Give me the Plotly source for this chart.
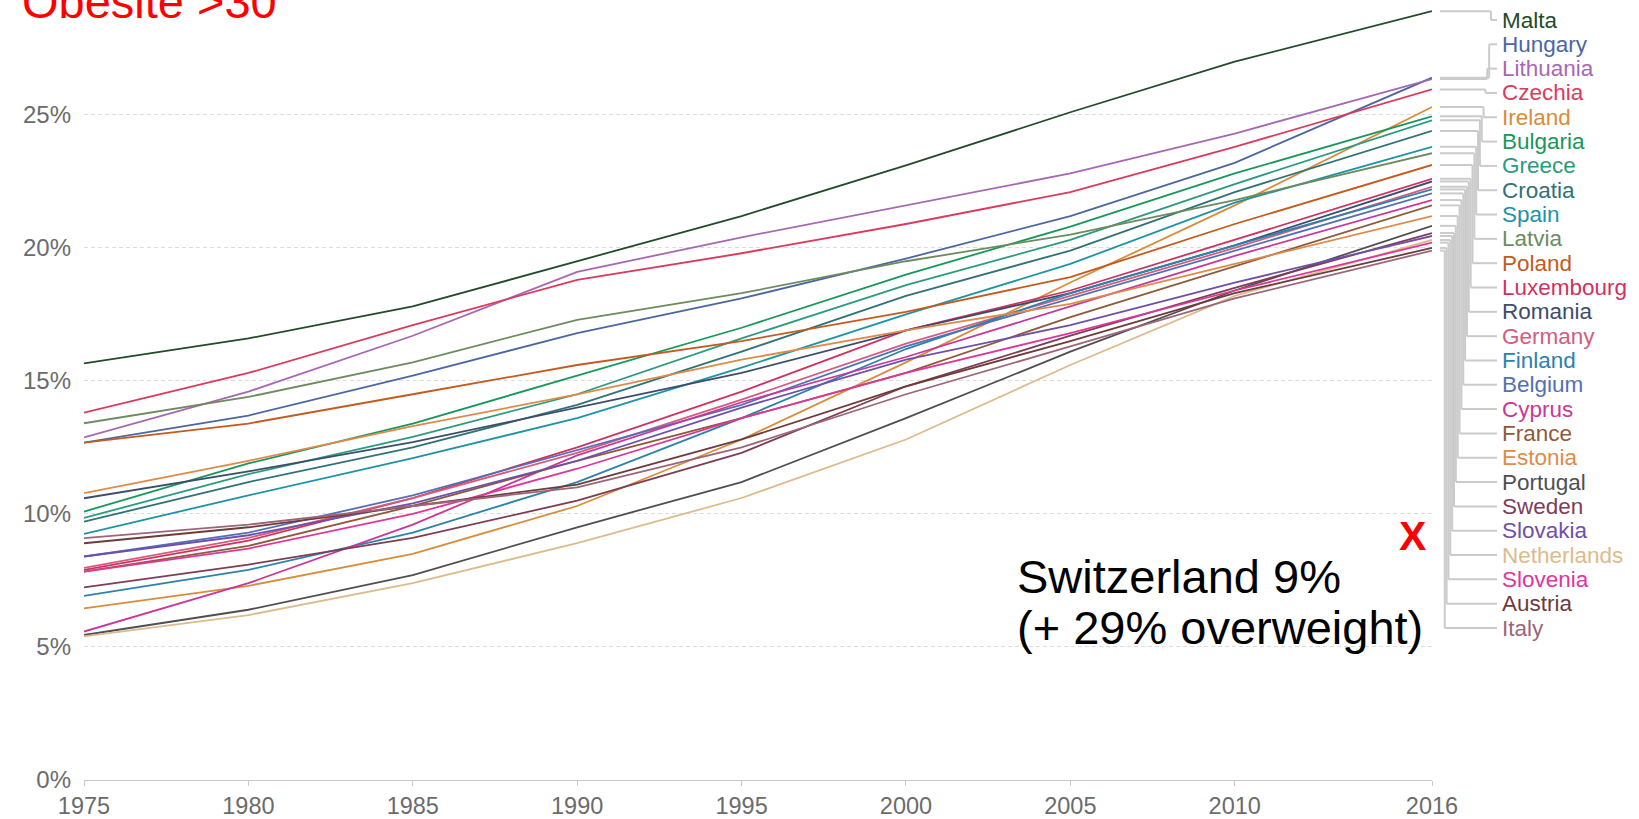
import plotly.graph_objects as go

# ---------------- data ----------------
YEARS = [1975, 1980, 1985, 1990, 1995, 2000, 2005, 2010, 2016]

MALTA       = [15.66, 16.6, 17.8, 19.5, 21.2, 23.1, 25.1, 27.0, 28.9]
HUNGARY     = [12.68, 13.7, 15.2, 16.8, 18.1, 19.6, 21.2, 23.2, 26.4]
LITHUANIA   = [12.88, 14.6, 16.7, 19.1, 20.4, 21.6, 22.8, 24.3, 26.35]
CZECHIA     = [13.81, 15.3, 17.1, 18.8, 19.8, 20.9, 22.1, 23.8, 25.96]
IRELAND     = [6.45, 7.3, 8.5, 10.3, 12.8, 15.7, 18.7, 21.6, 25.3]
BULGARIA    = [10.09, 11.9, 13.4, 15.2, 17.0, 19.0, 20.8, 22.8, 24.95]
GREECE      = [9.85, 11.5, 12.9, 14.5, 16.6, 18.6, 20.3, 22.4, 24.8]
CROATIA     = [9.71, 11.2, 12.5, 14.1, 16.1, 18.2, 19.9, 22.1, 24.4]
SPAIN       = [9.25, 10.7, 12.1, 13.6, 15.5, 17.5, 19.4, 21.7, 23.8]
LATVIA      = [13.41, 14.4, 15.7, 17.3, 18.3, 19.5, 20.5, 21.8, 23.56]
POLAND      = [12.68, 13.4, 14.5, 15.6, 16.5, 17.6, 18.9, 20.9, 23.12]
LUXEMBOURG  = [7.9, 9.0, 10.6, 12.5, 14.6, 16.9, 18.4, 20.3, 22.6]
ROMANIA     = [10.59, 11.6, 12.7, 14.0, 15.3, 16.9, 18.3, 20.1, 22.5]
GERMANY     = [7.97, 9.1, 10.6, 12.3, 14.3, 16.4, 18.2, 20.0, 22.3]
FINLAND     = [6.92, 7.9, 9.3, 11.2, 13.6, 16.2, 18.3, 20.1, 22.2]
BELGIUM     = [8.4, 9.3, 10.7, 12.4, 14.1, 16.3, 18.1, 19.9, 22.05]
CYPRUS      = [5.58, 7.4, 9.6, 12.2, 14.2, 15.9, 17.8, 19.7, 21.8]
FRANCE      = [7.83, 8.8, 10.3, 12.0, 13.6, 15.3, 17.4, 19.3, 21.6]
ESTONIA     = [10.78, 12.0, 13.3, 14.5, 15.8, 16.9, 17.9, 19.4, 21.2]
PORTUGAL    = [5.45, 6.4, 7.7, 9.5, 11.2, 13.6, 16.1, 18.4, 20.83]
SWEDEN      = [7.24, 8.1, 9.1, 10.5, 12.3, 14.8, 16.7, 18.5, 20.56]
SLOVAKIA    = [8.4, 9.2, 10.4, 12.0, 14.0, 15.8, 17.1, 18.7, 20.45]
NETHERLANDS = [5.4, 6.2, 7.4, 8.9, 10.6, 12.8, 15.6, 18.2, 20.3]
SLOVENIA    = [7.83, 8.7, 10.0, 11.7, 13.6, 15.3, 16.8, 18.4, 20.2]
AUSTRIA     = [8.9, 9.5, 10.3, 11.1, 12.8, 14.8, 16.5, 18.3, 20.0]
ITALY       = [9.09, 9.6, 10.3, 11.0, 12.5, 14.5, 16.3, 18.1, 19.9]

COUNTRIES = ["Malta", "Hungary", "Lithuania", "Czechia", "Ireland", "Bulgaria",
             "Greece", "Croatia", "Spain", "Latvia", "Poland", "Luxembourg",
             "Romania", "Germany", "Finland", "Belgium", "Cyprus", "France",
             "Estonia", "Portugal", "Sweden", "Slovakia", "Netherlands",
             "Slovenia", "Austria", "Italy"]
SERIES = [MALTA, HUNGARY, LITHUANIA, CZECHIA, IRELAND, BULGARIA, GREECE, CROATIA,
          SPAIN, LATVIA, POLAND, LUXEMBOURG, ROMANIA, GERMANY, FINLAND, BELGIUM,
          CYPRUS, FRANCE, ESTONIA, PORTUGAL, SWEDEN, SLOVAKIA, NETHERLANDS,
          SLOVENIA, AUSTRIA, ITALY]

X_TICKS = [1975, 1980, 1985, 1990, 1995, 2000, 2005, 2010, 2016]
Y_TICKS = [0, 5, 10, 15, 20, 25]

TITLE = "Obesite >30"
NOTE1 = "Switzerland 9%"
NOTE2 = "(+ 29% overweight)"

# ---------------- style ----------------
COLORS = ["#234a2a", "#4b67a3", "#a867b4", "#dc3a5c", "#d98c3a", "#17985a",
          "#2a9b7f", "#2f7277", "#1d93a8", "#6d8b5e", "#c45a1e", "#d2315f",
          "#3c4d6c", "#d65b7e", "#2b83ab", "#5270b5", "#c9379a", "#8d5a3a",
          "#e08a4a", "#4f4f4f", "#7d3d55", "#6e50aa", "#dcbb8c", "#e0359a",
          "#6e3b3b", "#9c6579"]

W, H = 1639, 819
ML, MR, MT, MB = 84, 207, 0, 39
PW = W - ML - MR
PH = H - MT - MB
YMAX = 29.32

TEXT_FONT = "Liberation Sans, Arial, Helvetica, sans-serif"


def px_x(px):
    return (px - ML) / PW


def px_y_data(py):
    return (1 - (py - MT) / PH) * YMAX


def px_y_paper(py):
    return 1 - (py - MT) / PH


fig = go.Figure()
for name, vals, col in zip(COUNTRIES, SERIES, COLORS):
    fig.add_trace(go.Scatter(x=YEARS, y=vals, mode="lines", name=name,
                             line=dict(color=col, width=1.8), showlegend=False))

# connectors + labels
shapes = []
annotations = []
lbl_top, lbl_step = 20, 24.32
for i, (name, vals, col) in enumerate(zip(COUNTRIES, SERIES, COLORS)):
    end_v = vals[-1]
    lbl_py = lbl_top + i * lbl_step
    lbl_v = px_y_data(lbl_py)
    xm = px_x(1491 - 1.85 * i)
    x0 = px_x(1440)
    x1 = px_x(1497)
    line = dict(color="#cbcbcb", width=2)
    shapes.append(dict(type="line", xref="paper", yref="y", x0=x0, x1=xm,
                       y0=end_v, y1=end_v, line=line))
    shapes.append(dict(type="line", xref="paper", yref="y", x0=xm, x1=xm,
                       y0=end_v, y1=lbl_v, line=line))
    shapes.append(dict(type="line", xref="paper", yref="y", x0=xm, x1=x1,
                       y0=lbl_v, y1=lbl_v, line=line))
    annotations.append(dict(text=name, xref="paper", yref="paper",
                            x=px_x(1500), y=px_y_paper(lbl_py),
                            xanchor="left", yanchor="middle", showarrow=False,
                            font=dict(family=TEXT_FONT, size=22.5, color=col)))

annotations.append(dict(text=TITLE, xref="paper", yref="paper",
                        x=px_x(20), y=px_y_paper(1.5), xanchor="left",
                        yanchor="middle", showarrow=False,
                        font=dict(family=TEXT_FONT, size=47, color="#ff0000")))
annotations.append(dict(text=NOTE1, xref="paper", yref="paper",
                        x=px_x(1015), y=px_y_paper(576), xanchor="left",
                        yanchor="middle", showarrow=False,
                        font=dict(family=TEXT_FONT, size=47, color="#000000")))
annotations.append(dict(text=NOTE2, xref="paper", yref="paper",
                        x=px_x(1015), y=px_y_paper(627), xanchor="left",
                        yanchor="middle", showarrow=False,
                        font=dict(family=TEXT_FONT, size=47, color="#000000")))
annotations.append(dict(text="<b>X</b>", xref="paper", yref="paper",
                        x=px_x(1412), y=px_y_paper(536), xanchor="center",
                        yanchor="middle", showarrow=False,
                        font=dict(family=TEXT_FONT, size=41, color="#ff0000")))

fig.update_layout(
    width=W, height=H,
    margin=dict(l=ML, r=MR, t=MT, b=MB, pad=0),
    paper_bgcolor="white", plot_bgcolor="white",
    shapes=shapes, annotations=annotations,
    xaxis=dict(range=[1975, 2016], tickvals=X_TICKS,
               ticktext=[str(v) for v in X_TICKS],
               showgrid=False, zeroline=False, showline=True,
               linecolor="#c8c8c8", linewidth=1.2,
               ticks="outside", ticklen=5, tickcolor="#c8c8c8",
               ticklabelstandoff=0, automargin=False,
               tickfont=dict(family=TEXT_FONT, size=23.5, color="#6b6b6b")),
    yaxis=dict(range=[0, YMAX], tickvals=Y_TICKS,
               ticktext=[f"{v}%" for v in Y_TICKS],
               showgrid=True, gridcolor="#dcdcdc", griddash="4px,3px",
               gridwidth=1, zeroline=False, showline=False, ticks="",
               ticklabelstandoff=12, automargin=False,
               tickfont=dict(family=TEXT_FONT, size=24, color="#6b6b6b")),
)

fig.write_html("out.html", config={"displayModeBar": False},
               post_script="document.body.style.margin='0';document.body.style.padding='0';")
